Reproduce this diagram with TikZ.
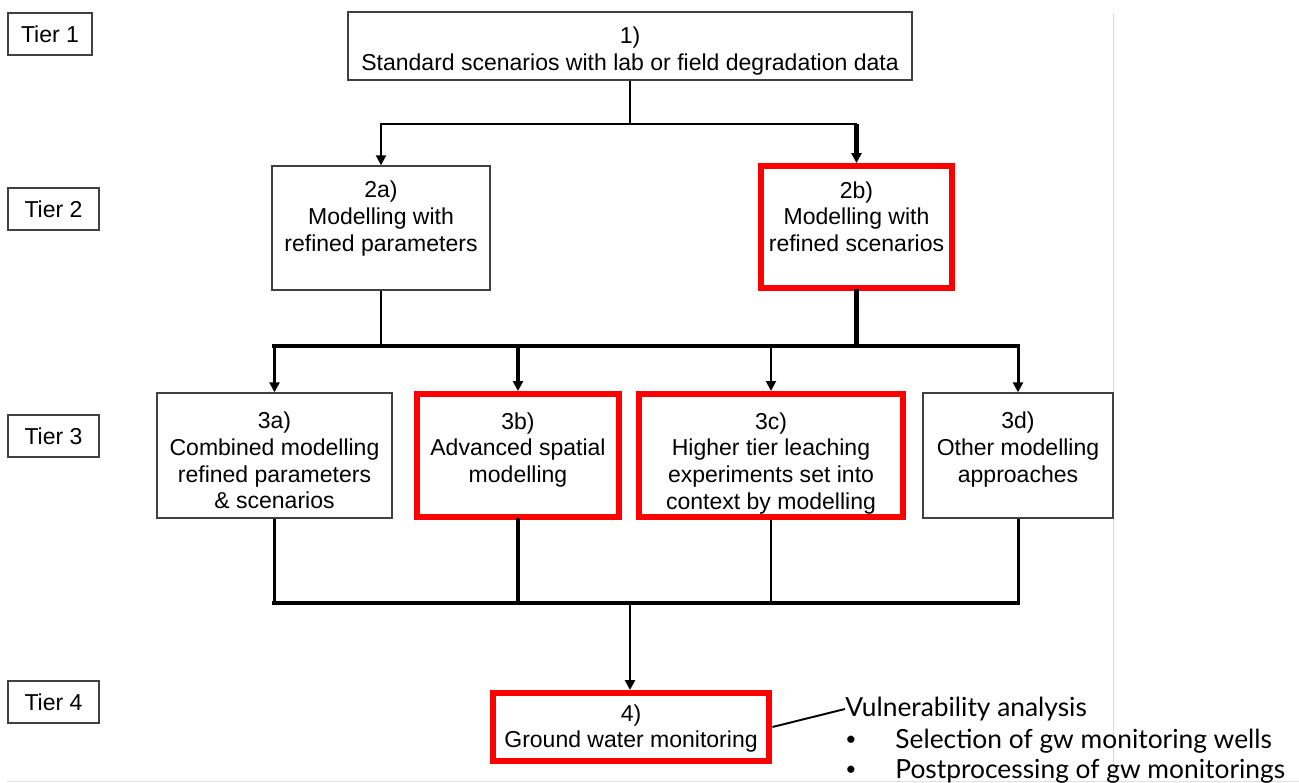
\documentclass[tikz,border=0pt]{standalone}
\usepackage{fontspec}
\setmainfont{Liberation Sans}
\newfontfamily\notefont{Lato}
\usetikzlibrary{arrows.meta,positioning,calc}
\newcommand\boxfont{\fontsize{13.1}{15.3}\selectfont}
\newcommand\listfont{\notefont\fontsize{15}{17}\selectfont}
\tikzset{
  >={Triangle[length=2mm,width=2mm]},
  box/.style={draw=black!75, line width=0.8pt, inner sep=0pt},
  redbox/.style={draw=red, line width=3.4pt, inner sep=0pt},
  tier/.style={box, minimum height=0.84cm, font=\boxfont},
  txt/.style={align=center, inner sep=0pt, anchor=north, font=\boxfont},
  note/.style={inner sep=0pt, anchor=west, font=\listfont},
  thinline/.style={line width=1.1pt},
  midline/.style={line width=1.7pt},
  thickline/.style={line width=2.5pt, line cap=rect},
}
\begin{document}
\begin{tikzpicture}[x=0.02cm, y=-0.02cm]
  \useasboundingbox[fill=white] (0,0) rectangle (1299,783);
  % slide edges
  \draw[black!15, line width=0.5pt] (1113,13) -- (1113,783);
  \draw[black!12, line width=0.5pt] (7,781) -- (1299,781);

  % tier labels
  \node[tier, minimum width=1.68cm] (tier1) at (50,34) {Tier 1};
  \node[tier, minimum width=1.82cm] (tier2) at (53.5,209) {Tier 2};
  \node[tier, minimum width=1.82cm] (tier3) at (53.5,436) {Tier 3};
  \node[tier, minimum width=1.82cm] (tier4) at (53.5,702) {Tier 4};

  % boxes
  \node[box, minimum width=11.28cm, minimum height=1.36cm] (b1) at (630,46) {};
  \node[box, minimum width=4.36cm, minimum height=2.48cm] (b2a) at (381,228) {};
  \node[redbox, minimum width=3.82cm, minimum height=2.44cm] (b2b) at (856.5,227) {};
  \node[box, minimum width=4.70cm, minimum height=2.50cm] (b3a) at (274.5,455.5) {};
  \node[redbox, minimum width=4.04cm, minimum height=2.46cm] (b3b) at (518,455.5) {};
  \node[redbox, minimum width=5.28cm, minimum height=2.46cm] (b3c) at (771,455.5) {};
  \node[box, minimum width=3.80cm, minimum height=2.50cm] (b3d) at (1018,455.5) {};
  \node[redbox, minimum width=5.54cm, minimum height=1.36cm] (b4) at (631,727) {};

  % box texts
  \node[txt] (t1) at ($(b1.north)+(0,15)$) {1)\\Standard scenarios with lab or field degradation data};
  \node[txt] (t2a) at ($(b2a.north)+(0,15)$) {2a)\\Modelling with\\refined parameters};
  \node[txt] (t2b) at ($(b2b.north)+(0,18)$) {2b)\\Modelling with\\refined scenarios};
  \node[txt] (t3a) at ($(b3a.north)+(0,19)$) {3a)\\Combined modelling\\refined parameters\\\& scenarios};
  \node[txt] (t3b) at ($(b3b.north)+(0,21)$) {3b)\\Advanced spatial\\modelling};
  \node[txt] (t3c) at ($(b3c.north)+(0,21)$) {3c)\\Higher tier leaching\\experiments set into\\context by modelling};
  \node[txt] (t3d) at ($(b3d.north)+(0,19)$) {3d)\\Other modelling\\approaches};
  \node[txt] (t4) at ($(b4.north)+(0,14)$) {4)\\Ground water monitoring};

  % tier 1 -> tier 2
  \coordinate (j1) at (630,124);
  \draw[thinline] (b1) -- (j1);
  \draw[thinline, ->] (j1) -| (b2a.north);
  \draw[thinline] (j1) -- (j1 -| b2b.north);
  \draw[thickline, line cap=butt, ->] (j1 -| b2b.north) -- (b2b.north);

  % tier 2 -> tier 3
  \coordinate (j2) at (630,346);
  \draw[thinline] (b2a.south) -- (b2a.south |- j2);
  \draw[thickline] (b2b.south) -- (b2b.south |- j2);
  \draw[thickline] (b3a.north |- j2) -- (b3d.north |- j2);
  \draw[midline, ->] (b3a.north |- j2) -- (b3a.north);
  \draw[thickline, line cap=butt, ->] (b3b.north |- j2) -- (b3b.north);
  \draw[thinline, ->] (b3c.north |- j2) -- (b3c.north);
  \draw[midline, ->] (b3d.north |- j2) -- (b3d.north);

  % tier 3 -> tier 4
  \coordinate (j3) at (630,603);
  \draw[midline] (b3a.south) -- (b3a.south |- j3);
  \draw[thickline] (b3b.south) -- (b3b.south |- j3);
  \draw[thinline] (b3c.south) -- (b3c.south |- j3);
  \draw[midline] (b3d.south) -- (b3d.south |- j3);
  \draw[thickline] (b3a.south |- j3) -- (b3d.south |- j3);
  \draw[midline, ->] (j3) -- (j3 |- b4.north);

  % monitoring notes
  \node[note] (vul) at (845,709) {Vulnerability analysis};
  \node[note, anchor=center, font=\notefont\fontsize{11}{12}\selectfont] (dot1) at (851,741) {\textbullet};
  \node[note] (sel) at (895,741) {Selection of gw monitoring wells};
  \node[note, anchor=center, font=\notefont\fontsize{11}{12}\selectfont] (dot2) at (851,771) {\textbullet};
  \node[note] (post) at (895,771) {Postprocessing of gw monitorings};
  \draw[thinline] (b4.east) -- (vul.west);
\end{tikzpicture}
\end{document}
